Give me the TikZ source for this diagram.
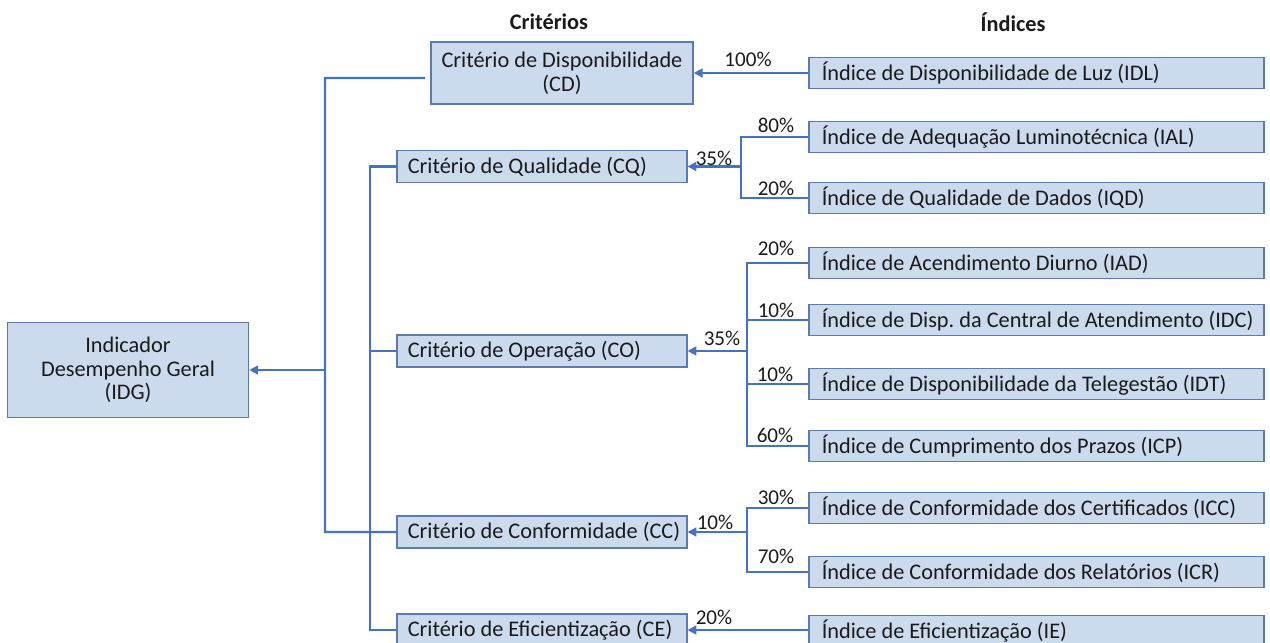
\documentclass[tikz,border=0pt]{standalone}
\usepackage{fontspec}
\setmainfont{Carlito}
\usetikzlibrary{arrows.meta}
\frenchspacing

\begin{document}
\begin{tikzpicture}[x=0.02cm,y=-0.02cm,
  font=\fontsize{12.7}{13.5}\selectfont,
  boxnode/.style={draw=boxline,fill=boxfill,line width=0.9pt,text=txt},
  critnode/.style={boxnode,anchor=west,align=left,text width=5.36cm,inner xsep=0.22cm,minimum height=0.64cm,inner ysep=0pt},
  idxnode/.style={boxnode,anchor=west,align=left,text width=8.58cm,inner xsep=0.26cm,minimum height=0.62cm,inner ysep=0pt},
  pct/.style={text=txt,font=\fontsize{12}{13}\selectfont,inner sep=1pt},
  ln/.style={draw=wire,line width=1.4pt},
  arr/.style={ln,-{Triangle[length=5pt,width=5pt]}}]
\definecolor{boxfill}{HTML}{CCDAEE}
\definecolor{boxline}{HTML}{5B7BB0}
\definecolor{wire}{HTML}{4472C4}
\definecolor{txt}{HTML}{1A1A1A}
\useasboundingbox (0,0) rectangle (1270,642);

\node[text=txt,font=\fontsize{12.7}{13.5}\bfseries] (hcrit) at (549,22) {Critérios};
\node[text=txt,font=\fontsize{12.7}{13.5}\bfseries] (hidx) at (1013,22) {Índices};

\node[boxnode,align=center,minimum width=4.82cm,minimum height=1.9cm] (IDG) at (128,370) {Indicador\\Desempenho Geral\\(IDG)};
\node[boxnode,align=center,minimum width=5.24cm,minimum height=1.24cm,inner ysep=0pt] (CD) at (562,73) {Critério de Disponibilidade\\(CD)};
\foreach \nm/\yy/\txtc in {CQ/166.5/{Critério de Qualidade (CQ)},CO/351/{Critério de Operação (CO)},
  CC/532/{Critério de Conformidade (CC)},CE/630/{Critério de Eficientização (CE)}}
  {\node[critnode] (\nm) at (396,\yy) {\spaceskip=0pt\mbox{\txtc}};}

\foreach \nm/\yy/\txtc in {IDL/73/{Índice de Disponibilidade de Luz (IDL)},
  IAL/137/{Índice de Adequação Luminotécnica (IAL)},IQD/198/{Índice de Qualidade de Dados (IQD)},
  IAD/263/{Índice de Acendimento Diurno (IAD)},IDC/320/{Índice de Disp. da Central de Atendimento (IDC)},
  IDT/384/{Índice de Disponibilidade da Telegestão (IDT)},ICP/446/{Índice de Cumprimento dos Prazos (ICP)},
  ICC/508/{Índice de Conformidade dos Certificados (ICC)},ICR/572/{Índice de Conformidade dos Relatórios (ICR)},
  IE/631/{Índice de Eficientização (IE)}}
  {\node[idxnode] (\nm) at (808,\yy) {\spaceskip=0pt\mbox{\txtc}};}

% trunks to the criteria
\coordinate (a1) at (325,78);
\coordinate (a2) at (325,532);
\coordinate (b1) at (370,166.5);
\coordinate (b2) at (370,630);
\draw[ln,shorten <=0.1cm] ([yshift=-0.1cm]CD.west) -- (a1) -- (a2) -- (CC.west);
\draw[arr] (a1 |- IDG.east) -- (IDG.east);
\draw[ln] (CQ.west) -- (b1) -- (b2) -- (CE.west);
\draw[ln] (CO.west) -- (CO.west -| b1);

% branches to the indices
\coordinate (bq) at (741,166.5);
\coordinate (bo) at (747,351);
\coordinate (bc) at (747,532);
\draw[arr] (IDL.west) -- (CD.east);
\draw[ln] (IAL.west) -| (bq) |- (IQD.west);
\draw[arr] (bq) -- (CQ.east);
\draw[ln] (IAD.west) -| (bo) |- (ICP.west);
\draw[ln] (IDC.west) -- (IDC.west -| bo);
\draw[ln] (IDT.west) -- (IDT.west -| bo);
\draw[arr] (bo) -- (CO.east);
\draw[ln] (ICC.west) -| (bc) |- (ICR.west);
\draw[arr] (bc) -- (CC.east);
\draw[arr] (IE.west |- CE.east) -- (CE.east);

\foreach \pc/\x/\y [count=\i] in {100\%/748/59,80\%/776/125,20\%/776/188,35\%/714/158,
  20\%/776/248,10\%/776/310,10\%/775/374,60\%/775/435,35\%/722/338,
  30\%/776/497,70\%/776/556,10\%/715/522,20\%/714/617}
  {\node[pct] (p\i) at (\x,\y) {\pc};}
\end{tikzpicture}
\end{document}
